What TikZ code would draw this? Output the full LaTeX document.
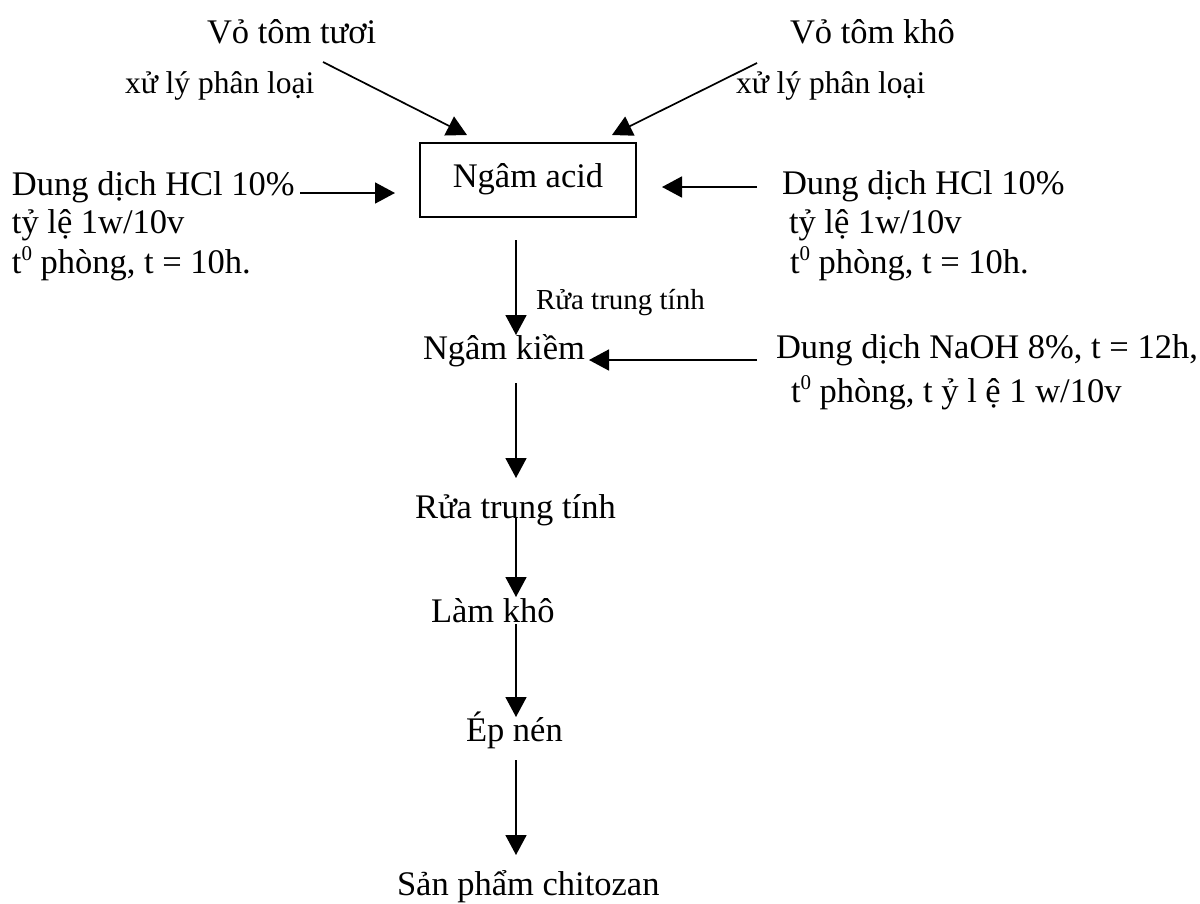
\documentclass[tikz,border=0pt]{standalone}
\usepackage{fontspec}
\setmainfont{Liberation Serif}
\usetikzlibrary{arrows.meta}
\newcommand\supzero{\raisebox{13pt}{\fontsize{21}{21}\selectfont 0}}
\begin{document}
\begin{tikzpicture}[x=1pt,y=-1pt,
  every node/.style={inner sep=0pt, outer sep=0pt},
  txt/.style={anchor=base west, font=\fontsize{34.5}{40}\selectfont},
  note/.style={anchor=base west, font=\fontsize{31.5}{36}\selectfont},
  tiny/.style={anchor=base west, font=\fontsize{29}{34}\selectfont},
  procbox/.style={draw, line width=1.6pt, font=\fontsize{34.5}{40}\selectfont,
    text height=24pt, text depth=10pt, minimum width=216pt, minimum height=74pt},
  arr/.style={line width=1.7pt, -{Triangle[length=20pt,width=21pt]}}]
\useasboundingbox (0,0) rectangle (1200,903);

% raw materials
\node[txt] (tuoi) at (207,43) {Vỏ tôm tươi};
\node[txt] (kho) at (790,43) {Vỏ tôm khô};
\node[note] (xlA) at (125,93) {xử lý phân loại};
\node[note] (xlB) at (736,93) {xử lý phân loại};

% acid step
\node[procbox] (acid) at (528,180) {Ngâm acid};

\node[txt] (hclA1) at (12,195) {Dung dịch HCl 10\%};
\node[txt] (hclA2) at (12,233) {tỷ lệ 1w/10v};
\node[txt] (hclA3) at (12,273) {t\supzero{} phòng, t = 10h.};

\node[txt] (hclB1) at (782,194) {Dung dịch HCl 10\%};
\node[txt] (hclB2) at (789,233) {tỷ lệ 1w/10v};
\node[txt] (hclB3) at (790,273) {t\supzero{} phòng, t = 10h.};

% alkali step
\node[tiny] (wash1) at (536,309) {Rửa trung tính};
\node[txt] (kiem) at (423,359) {Ngâm kiềm};
\node[txt] (naoh1) at (776,358) {Dung dịch NaOH 8\%, t = 12h,};
\node[txt] (naoh2) at (791,402) {t\supzero{} phòng, t ỷ l ệ 1 w/10v};

% remaining steps
\node[txt] (wash2) at (415,518) {Rửa trung tính};
\node[txt] (dry) at (431,622) {Làm khô};
\node[txt] (press) at (466,741) {Ép nén};
\node[txt] (prod) at (397,895) {Sản phẩm chitozan};

% connector end points
\coordinate (pA) at (323,62);   \coordinate (qA) at (467,135);
\coordinate (pB) at (757,63);   \coordinate (qB) at (612,135);
\coordinate (pC) at (300,193);  \coordinate (qC) at (395,193);
\coordinate (pD) at (757,187);  \coordinate (qD) at (662,187);
\coordinate (pE) at (516,240);  \coordinate (qE) at (516,335);
\coordinate (pF) at (757,360);  \coordinate (qF) at (589,360);
\coordinate (pG) at (516,383);  \coordinate (qG) at (516,478);
\coordinate (pH) at (516,517);  \coordinate (qH) at (516,597);
\coordinate (pI) at (516,624);  \coordinate (qI) at (516,717);
\coordinate (pJ) at (516,760);  \coordinate (qJ) at (516,855);

\draw[arr] (pA) -- (qA);
\draw[arr] (pB) -- (qB);
\draw[arr] (pC) -- (qC);
\draw[arr] (pD) -- (qD);
\draw[arr] (pE) -- (qE);
\draw[arr] (pF) -- (qF);
\draw[arr] (pG) -- (qG);
\draw[arr] (pH) -- (qH);
\draw[arr] (pI) -- (qI);
\draw[arr] (pJ) -- (qJ);
\end{tikzpicture}
\end{document}
